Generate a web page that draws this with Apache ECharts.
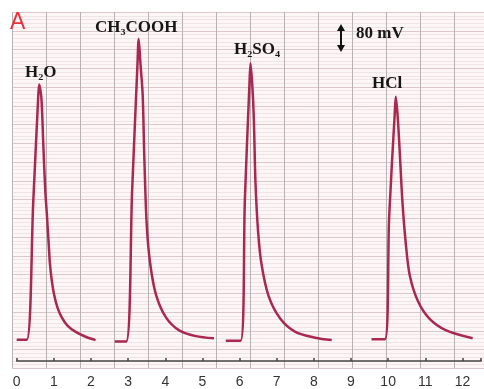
<!DOCTYPE html>
<html>
<head>
<meta charset="utf-8">
<script src="https://cdn.jsdelivr.net/npm/echarts@6/dist/echarts.min.js"></script>
<style>html,body{margin:0;padding:0;background:#fff;}#c{width:484px;height:389px;}</style>
</head>
<body>
<div id="c"></div>
<script>
// x tick labels (time units)
const xTicks = [0,1,2,3,4,5,6,7,8,9,10,11,12];
// Peak traces (x = time, y = signal in mV)
const h2oX = [0, 0.27, 0.445, 0.575, 0.605, 0.664, 0.718, 0.77, 0.812, 0.838, 0.865, 0.892, 0.938, 1.007, 1.098, 1.213, 1.366, 1.589, 1.856, 2.124];
const h2oY = [70, 70, 523, 860, 912, 869, 709, 560, 485, 432, 379, 325, 272, 219, 176, 144, 117, 96, 80, 69];
const aceticX = [2.64, 2.947, 3.107, 3.25, 3.284, 3.335, 3.391, 3.437, 3.499, 3.59, 3.75, 4.018, 4.375, 4.82, 5.31];
const aceticY = [64, 64, 560, 975, 1062, 975, 880, 667, 453, 325, 219, 144, 101, 82, 75];
const sulfX = [5.63, 6.027, 6.143, 6.265, 6.295, 6.345, 6.384, 6.429, 6.499, 6.59, 6.785, 7.099, 7.5, 8.036, 8.481];
const sulfY = [67, 67, 533, 910, 982, 905, 800, 587, 427, 320, 213, 139, 96, 77, 69];
const hclX = [9.553, 9.912, 10.027, 10.175, 10.206, 10.255, 10.313, 10.383, 10.474, 10.581, 10.804, 11.117, 11.562, 12.276];
const hclY = [72, 72, 475, 810, 872, 810, 688, 528, 389, 283, 197, 139, 101, 75];
const peakNames = ['H₂O', 'CH₃COOH', 'H₂SO₄', 'HCl'];

const zip = (xs, ys) => xs.map((x, i) => [x, ys[i]]);
const traces = [zip(h2oX, h2oY), zip(aceticX, aceticY), zip(sulfX, sulfY), zip(hclX, hclY)];

const chart = echarts.init(document.getElementById('c'), null, {renderer: 'canvas'});
const serif = '"Liberation Serif","Times New Roman","DejaVu Serif",serif';
const lbl = (text, x, y) => ({
  type: 'text', left: x, top: y, z: 100,
  style: {text: text, fontFamily: serif, fontWeight: 'bold', fontSize: 17, fill: '#161616'}
});

const option = {
  backgroundColor: '#ffffff',
  animation: false,
  grid: [
    {left: 16.7, right: 0.7, top: 15.45, bottom: 17.3, z: 5},
    {left: 12, right: 0, top: 12, bottom: 20.75, show: true, backgroundColor: '#fcf6f7', borderWidth: 0, z: 0}
  ],
  xAxis: [
    {
      type: 'value', gridIndex: 0, min: 0, max: 12.5, interval: 1,
      axisLine: {show: true, lineStyle: {color: '#444', width: 1.5}},
      axisTick: {show: true, inside: true, length: 3, lineStyle: {color: '#444', width: 1.5}},
      axisLabel: {show: true, color: '#333', fontSize: 14, fontFamily: 'Liberation Sans, Arial, sans-serif', margin: 14,
        formatter: v => (xTicks.indexOf(v) >= 0 ? String(v) : '')},
      splitLine: {show: false}
    },
    {
      type: 'value', gridIndex: 1, min: 0, max: 13.88, interval: 1,
      axisLine: {show: false}, axisTick: {show: false}, axisLabel: {show: false},
      splitLine: {show: true, lineStyle: {color: '#b8b4b6', width: 1}}
    }
  ],
  yAxis: [
    {type: 'value', gridIndex: 0, min: 0, max: 1140, show: false, splitLine: {show: false}},
    {
      type: 'value', gridIndex: 1, min: 0, max: 19, interval: 1,
      axisLine: {show: false}, axisTick: {show: false}, axisLabel: {show: false},
      splitLine: {show: true, lineStyle: {color: '#dcc7cb', width: 1}},
      minorTick: {show: false, splitNumber: 5},
      minorSplitLine: {show: true, lineStyle: {color: '#f1e4e6', width: 1}}
    }
  ],
  series: traces.map((d, i) => ({
    type: 'line', name: peakNames[i], xAxisIndex: 0, yAxisIndex: 0, data: d,
    showSymbol: false, smooth: 0.3, z: 10,
    lineStyle: {color: '#a8284f', width: 2.5}
  })),
  graphic: [
    {type: 'text', left: 10, top: 11, z: 100,
      style: {text: 'A', fontFamily: 'Liberation Sans, Arial, sans-serif', fontSize: 23, fill: '#e3343a'}},
    lbl('H₂O', 25, 64),
    lbl('CH₃COOH', 95, 19),
    lbl('H₂SO₄', 234, 41),
    lbl('HCl', 372, 75),
    lbl('80 mV', 356, 25),
    {type: 'line', z: 100, shape: {x1: 341, y1: 29, x2: 341, y2: 47}, style: {stroke: '#111', lineWidth: 2}},
    {type: 'polygon', z: 100, shape: {points: [[341, 24], [337, 31], [345, 31]]}, style: {fill: '#111'}},
    {type: 'polygon', z: 100, shape: {points: [[341, 52], [337, 45], [345, 45]]}, style: {fill: '#111'}}
  ]
};
chart.setOption(option);
</script>
</body>
</html>
